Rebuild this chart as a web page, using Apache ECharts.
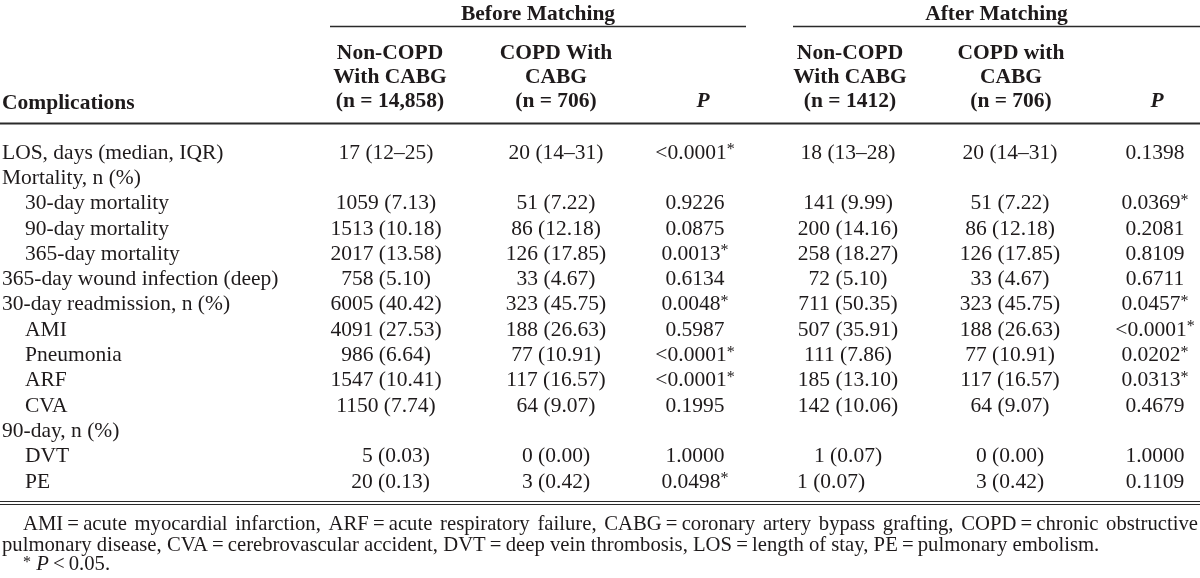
<!DOCTYPE html>
<html><head><meta charset="utf-8">
<script src="https://cdn.jsdelivr.net/npm/echarts@6/dist/echarts.min.js"></script>
<style>html,body{margin:0;padding:0;background:#fff}#c{width:1200px;height:578px}</style>
</head><body><div id="c"></div>
<script>
// ---------------- data ----------------
const groupHeaders = ['Before Matching', 'After Matching'];
const columnHeaders = [
  ['Non-COPD', 'With CABG', '(n = 14,858)'],
  ['COPD With', 'CABG', '(n = 706)'],
  ['', '', 'P'],
  ['Non-COPD', 'With CABG', '(n = 1412)'],
  ['COPD with', 'CABG', '(n = 706)'],
  ['', '', 'P']
];
const stubHeader = 'Complications';
const rowLabels = ['LOS, days (median, IQR)', 'Mortality, n (%)', '30-day mortality', '90-day mortality', '365-day mortality', '365-day wound infection (deep)', '30-day readmission, n (%)', 'AMI', 'Pneumonia', 'ARF', 'CVA', '90-day, n (%)', 'DVT', 'PE'];
const rowLevel = [0, 0, 1, 1, 1, 0, 0, 1, 1, 1, 1, 0, 1, 1];
const beforeNonCOPD = ['17 (12–25)', '', '1059 (7.13)', '1513 (10.18)', '2017 (13.58)', '758 (5.10)', '6005 (40.42)', '4091 (27.53)', '986 (6.64)', '1547 (10.41)', '1150 (7.74)', '', '5 (0.03)', '20 (0.13)'];
const beforeCOPD = ['20 (14–31)', '', '51 (7.22)', '86 (12.18)', '126 (17.85)', '33 (4.67)', '323 (45.75)', '188 (26.63)', '77 (10.91)', '117 (16.57)', '64 (9.07)', '', '0 (0.00)', '3 (0.42)'];
const beforeP = ['<0.0001*', '', '0.9226', '0.0875', '0.0013*', '0.6134', '0.0048*', '0.5987', '<0.0001*', '<0.0001*', '0.1995', '', '1.0000', '0.0498*'];
const afterNonCOPD = ['18 (13–28)', '', '141 (9.99)', '200 (14.16)', '258 (18.27)', '72 (5.10)', '711 (50.35)', '507 (35.91)', '111 (7.86)', '185 (13.10)', '142 (10.06)', '', '1 (0.07)', '1 (0.07)'];
const afterCOPD = ['20 (14–31)', '', '51 (7.22)', '86 (12.18)', '126 (17.85)', '33 (4.67)', '323 (45.75)', '188 (26.63)', '77 (10.91)', '117 (16.57)', '64 (9.07)', '', '0 (0.00)', '3 (0.42)'];
const afterP = ['0.1398', '', '0.0369*', '0.2081', '0.8109', '0.6711', '0.0457*', '<0.0001*', '0.0202*', '0.0313*', '0.4679', '', '1.0000', '0.1109'];
const footnoteLines = [
  'AMI\u2009=\u2009acute myocardial infarction, ARF\u2009=\u2009acute respiratory failure, CABG\u2009=\u2009coronary artery bypass grafting, COPD\u2009=\u2009chronic obstructive',
  'pulmonary disease, CVA\u2009=\u2009cerebrovascular accident, DVT\u2009=\u2009deep vein thrombosis, LOS\u2009=\u2009length of stay, PE\u2009=\u2009pulmonary embolism.'
];
const significanceNote = ['*', ' P', '\u2009<\u20090.05.'];

// ---------------- layout ----------------
const L = {
  W: 1200, H: 578,
  font: 'Liberation Serif', size: 21.5, footSize: 20.7, supSize: 16,
  color: '#1e1a1b',
  colX: [386, 556, 695, 848, 1010, 1155],
  headX: [390, 556, 703, 850, 1011, 1157],
  labelX: 2, indent: 23,
  rowY0: 153, rowH: 25.3,
  groupY: 14, groupSpan: [[330, 746], [793, 1200]], groupRuleY: 26.5,
  headY: [53, 77, 101], stubY: 103,
  topRuleY: 123.5,
  bottomRuleY: [501.5, 504.5],
  footY: [525, 546, 565], footX: [23, 2, 23], footRight: 1198,
  // typesetting quirks of individual cells in the source: [col, row, align, x]
  cellAlign: [[0, 12, 'right', 430], [0, 13, 'right', 430], [3, 13, 'left', 797]]
};
const columns = [beforeNonCOPD, beforeCOPD, beforeP, afterNonCOPD, afterCOPD, afterP];

// ---------------- build marks ----------------
const marks = [];
function txt(x, y, text, o) { marks.push(Object.assign({ kind: 'text', x, y, text }, o || {})); }
function rule(x1, x2, y, w) { marks.push({ kind: 'line', x: x1, y, x2, w: w || 1 }); }

function cellText(s) {
  if (s.endsWith('*')) return '{n|' + s.slice(0, -1) + '}{s|*}';
  return '{n|' + s + '}';
}

groupHeaders.forEach((g, i) => {
  const sp = L.groupSpan[i];
  txt((sp[0] + sp[1]) / 2, L.groupY, g, { bold: true, align: 'center' });
  rule(sp[0], sp[1], L.groupRuleY, 1.4);
});
txt(L.labelX, L.stubY, stubHeader, { bold: true, align: 'left' });
columnHeaders.forEach((lines, c) => {
  lines.forEach((t, k) => {
    if (!t) return;
    txt(L.headX[c], L.headY[k], t, { bold: true, italic: t === 'P', align: 'center' });
  });
});
rule(0, L.W, L.topRuleY, 1.8);
rowLabels.forEach((lab, r) => {
  const y = L.rowY0 + r * L.rowH;
  txt(L.labelX + rowLevel[r] * L.indent, y, lab, { align: 'left' });
  columns.forEach((col, c) => {
    if (!col[r]) return;
    const q = L.cellAlign.find(a => a[0] === c && a[1] === r);
    if (q) txt(q[3], y, col[r], { align: q[2], rich: true });
    else txt(L.colX[c], y, col[r], { align: 'center', rich: true });
  });
});
L.bottomRuleY.forEach(y => rule(0, L.W, y, 1.1));

// footnotes: first line justified, second natural
const ctx = document.createElement('canvas').getContext('2d');
ctx.font = L.footSize + 'px "' + L.font + '"';
{
  const words = footnoteLines[0].split(' ');
  const widths = words.map(w => ctx.measureText(w).width);
  const total = widths.reduce((a, b) => a + b, 0);
  const gap = (L.footRight - L.footX[0] - total) / (words.length - 1);
  let x = L.footX[0];
  words.forEach((w, i) => { txt(x, L.footY[0], w, { align: 'left', foot: true }); x += widths[i] + gap; });
}
txt(L.footX[1], L.footY[1], footnoteLines[1], { align: 'left', foot: true });
txt(L.footX[2], L.footY[2], '{s|' + significanceNote[0] + '}{i|' + significanceNote[1] + '}{n|' + significanceNote[2] + '}', { align: 'left', foot: true, rich: true, raw: true });

// ---------------- chart ----------------
const chart = echarts.init(document.getElementById('c'), null, { renderer: 'canvas' });
const richStyles = (size) => ({
  n: { fontFamily: L.font, fontSize: size, fill: L.color, color: L.color },
  s: { fontFamily: L.font, fontSize: L.supSize, fill: L.color, color: L.color, verticalAlign: 'top' },
  i: { fontFamily: L.font, fontSize: size, fontStyle: 'italic', fill: L.color, color: L.color }
});
chart.setOption({
  animation: false,
  grid: { left: 0, right: 0, top: 0, bottom: 0 },
  xAxis: { type: 'value', min: 0, max: L.W, show: false },
  yAxis: { type: 'value', min: 0, max: L.H, inverse: true, show: false },
  series: [{
    type: 'custom',
    coordinateSystem: 'cartesian2d',
    clip: false,
    silent: true,
    data: marks.map(m => [m.x, m.y]),
    encode: { x: 0, y: 1 },
    renderItem: function (params, api) {
      const m = marks[params.dataIndex];
      const p = api.coord([m.x, m.y]);
      if (m.kind === 'line') {
        const p2 = api.coord([m.x2, m.y]);
        return { type: 'line', shape: { x1: p[0], y1: p[1], x2: p2[0], y2: p2[1] }, style: { stroke: '#2a2a2a', lineWidth: m.w } };
      }
      const size = m.foot ? L.footSize : L.size;
      const style = {
        text: m.rich && !m.raw ? cellText(m.text) : m.text,
        fontFamily: L.font, fontSize: size,
        fontWeight: m.bold ? 'bold' : 'normal',
        fontStyle: m.italic ? 'italic' : 'normal',
        fill: L.color, align: m.align, verticalAlign: 'middle'
      };
      if (m.rich) style.rich = richStyles(size);
      return { type: 'text', x: p[0], y: p[1], style };
    }
  }]
});
</script>
</body></html>
